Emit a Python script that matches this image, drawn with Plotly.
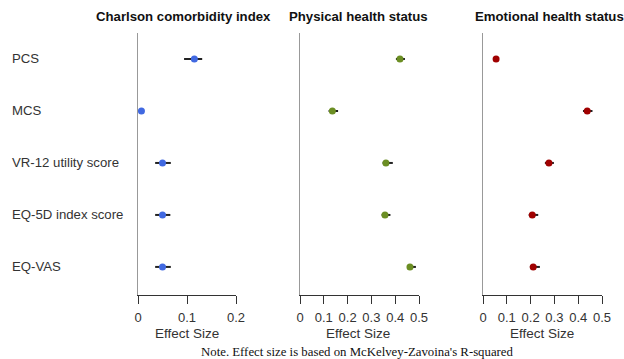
import plotly.graph_objects as go

# Outcome measures (rows, top to bottom)
measures = ["PCS", "MCS", "VR-12 utility score", "EQ-5D index score", "EQ-VAS"]

# Panels: predictor, colour, x-axis max
panel_titles = ["Charlson comorbidity index", "Physical health status", "Emotional health status"]
panel_colors = ["#4169E1", "#6B8E23", "#A00000"]
panel_xmax = [0.2, 0.5, 0.5]
panel_dtick = [0.1, 0.1, 0.1]

# Effect sizes (McKelvey-Zavoina R-squared) with confidence limits
charlson_est = [0.115, 0.007, 0.050, 0.050, 0.050]
charlson_lo = [0.094, 0.004, 0.035, 0.035, 0.035]
charlson_hi = [0.131, 0.011, 0.067, 0.066, 0.067]

physical_est = [0.420, 0.136, 0.361, 0.357, 0.462]
physical_lo = [0.403, 0.120, 0.347, 0.343, 0.451]
physical_hi = [0.441, 0.160, 0.390, 0.380, 0.487]

emotional_est = [0.055, 0.438, 0.277, 0.207, 0.211]
emotional_lo = [0.046, 0.420, 0.260, 0.192, 0.197]
emotional_hi = [0.065, 0.460, 0.298, 0.232, 0.239]

estimates = [charlson_est, physical_est, emotional_est]
lowers = [charlson_lo, physical_lo, emotional_lo]
uppers = [charlson_hi, physical_hi, emotional_hi]

W, H = 624, 359
ML, MR, MT, MB = 138, 22, 33, 64
PW = W - ML - MR
PH = H - MT - MB

# Panel pixel spans along x
panel_px = [(138, 236), (300, 419), (483, 602)]
title_px = [183, 358, 549]
xlab_px = [187, 358, 542]

SANS = "Liberation Sans, Arial"


def px_to_paper_x(px):
    return (px - ML) / PW


def px_to_paper_y(py):
    return (H - MB - py) / PH


fig = go.Figure()
rows = list(range(len(measures)))

for i in range(3):
    suffix = "" if i == 0 else str(i + 1)
    est, lo, hi = estimates[i], lowers[i], uppers[i]
    fig.add_trace(go.Scatter(
        x=est, y=rows,
        mode="markers",
        marker=dict(color=panel_colors[i], size=7, line=dict(width=0)),
        error_x=dict(type="data", symmetric=False,
                     array=[h - e for h, e in zip(hi, est)],
                     arrayminus=[e - l for e, l in zip(est, lo)],
                     color="#222222", thickness=2, width=0),
        xaxis="x" + suffix, yaxis="y" + suffix,
        showlegend=False, cliponaxis=False,
    ))
    d0, d1 = panel_px[i]
    fig.update_layout(**{
        "xaxis" + suffix: dict(
            domain=[px_to_paper_x(d0), px_to_paper_x(d1)],
            range=[0, panel_xmax[i]], dtick=panel_dtick[i], tick0=0,
            showline=True, linecolor="#333333", linewidth=1,
            ticks="outside", ticklen=8, tickcolor="#333333", tickwidth=1,
            ticklabelstandoff=2,
            tickfont=dict(family=SANS, size=13, color="#333333"),
            showgrid=False, zeroline=False, anchor="y" + suffix,
            fixedrange=True,
        ),
        "yaxis" + suffix: dict(
            domain=[0, 1], range=[len(measures) - 0.46, -0.5],
            showline=True, linecolor="#999999", linewidth=1,
            showticklabels=False, ticks="", showgrid=False, zeroline=False,
            anchor="x" + suffix, fixedrange=True,
        ),
    })

annotations = []
for i in range(3):
    annotations.append(dict(
        text="<b>%s</b>" % panel_titles[i], xref="paper", yref="paper",
        x=px_to_paper_x(title_px[i]), y=px_to_paper_y(17),
        xanchor="center", yanchor="middle", showarrow=False,
        font=dict(family=SANS, size=13.2, color="#111111"),
    ))
    annotations.append(dict(
        text="Effect Size", xref="paper", yref="paper",
        x=px_to_paper_x(xlab_px[i]), y=px_to_paper_y(333),
        xanchor="center", yanchor="middle", showarrow=False,
        font=dict(family=SANS, size=13.5, color="#333333"),
    ))

for r, m in enumerate(measures):
    annotations.append(dict(
        text=m, xref="paper", yref="y",
        x=px_to_paper_x(10), y=r,
        xanchor="left", yanchor="middle", showarrow=False,
        font=dict(family=SANS, size=13.2, color="#333333"),
    ))

annotations.append(dict(
    text="Note. Effect size is based on McKelvey-Zavoina's R-squared",
    xref="paper", yref="paper",
    x=px_to_paper_x(357), y=px_to_paper_y(352),
    xanchor="center", yanchor="middle", showarrow=False,
    font=dict(family="Liberation Serif, Times New Roman", size=12.8, color="#111111"),
))

fig.update_layout(
    width=W, height=H,
    margin=dict(l=ML, r=MR, t=MT, b=MB),
    paper_bgcolor="white", plot_bgcolor="white",
    annotations=annotations,
)

fig.write_html("out.html")
